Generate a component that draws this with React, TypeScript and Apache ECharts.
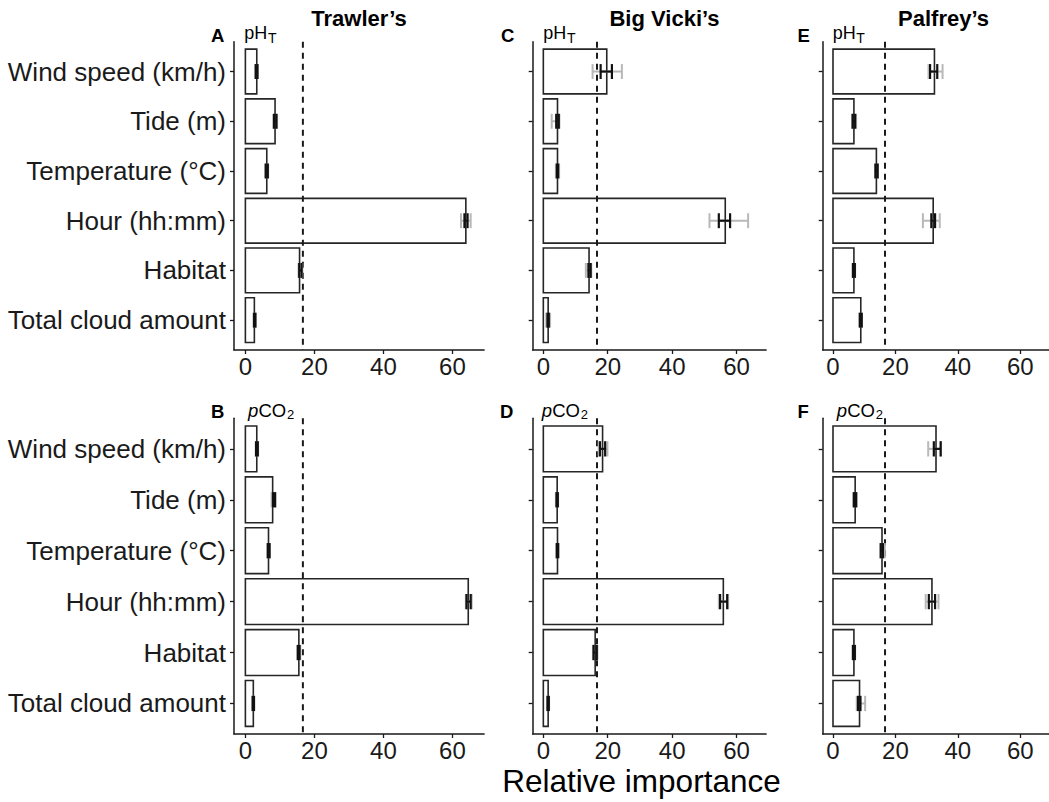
import React, { useEffect, useRef } from "react";
import * as echarts from "echarts";

// ---------- data ----------
const categories = [
  "Wind speed (km/h)",
  "Tide (m)",
  "Temperature (°C)",
  "Hour (hh:mm)",
  "Habitat",
  "Total cloud amount",
];
const xTicks = [0, 20, 40, 60];
const equalShare = 100 / 6;
const siteTitles = ["Trawler’s", "Big Vicki’s", "Palfrey’s"];
const panelLetters = ["A", "C", "E", "B", "D", "F"];

// Trawler's pH_T
const trawlersPhValues = [3.3, 8.6, 6.2, 63.9, 15.7, 2.6];
const trawlersPhCI = [[3.0, 3.5], [8.3, 9.0], [5.9, 6.5], [63.5, 64.4], [15.6, 16.3], [2.5, 2.9]];
const trawlersPhCIBoot = [[2.9, 3.6], [8.1, 9.2], [5.8, 6.6], [62.5, 65.3], [15.4, 16.5], [2.4, 3.0]];
// Big Vicki's pH_T
const vickisPhValues = [19.7, 4.4, 4.4, 56.5, 14.2, 1.5];
const vickisPhCI = [[17.8, 21.3], [4.0, 4.8], [4.2, 4.6], [54.5, 58.0], [14.0, 14.7], [1.3, 1.7]];
const vickisPhCIBoot = [[15.3, 24.4], [2.6, 5.0], [3.9, 4.9], [51.6, 63.6], [13.2, 14.9], [0.9, 2.1]];
// Palfrey's pH_T
const palfreysPhValues = [32.5, 6.7, 13.9, 32.1, 6.7, 8.9];
const palfreysPhCI = [[31.1, 33.4], [6.3, 7.1], [13.6, 14.3], [31.5, 32.7], [6.4, 7.0], [8.6, 9.2]];
const palfreysPhCIBoot = [[30.6, 35.1], [6.1, 7.4], [13.5, 14.4], [28.8, 34.2], [6.3, 7.1], [8.5, 9.3]];
// Trawler's pCO2
const trawlersCo2Values = [3.3, 7.9, 6.7, 64.6, 15.5, 2.3];
const trawlersCo2CI = [[3.1, 3.6], [8.0, 8.6], [6.5, 7.0], [64.1, 65.3], [15.2, 15.7], [2.1, 2.5]];
const trawlersCo2CIBoot = [[3.0, 3.7], [7.6, 8.7], [6.4, 7.1], [63.9, 65.6], [15.1, 15.9], [2.1, 2.5]];
// Big Vicki's pCO2
const vickisCo2Values = [18.4, 4.3, 4.4, 55.9, 16.1, 1.5];
const vickisCo2CI = [[17.6, 19.2], [4.1, 4.5], [4.2, 4.6], [54.9, 57.1], [15.6, 16.6], [1.3, 1.7]];
const vickisCo2CIBoot = [[17.2, 19.9], [3.9, 4.6], [4.0, 4.7], [54.5, 57.4], [15.4, 16.8], [1.2, 1.8]];
// Palfrey's pCO2
const palfreysCo2Values = [33.0, 7.1, 15.7, 31.7, 6.7, 8.5];
const palfreysCo2CI = [[32.3, 34.5], [6.7, 7.4], [15.3, 16.0], [30.7, 32.7], [6.4, 7.0], [8.0, 8.8]];
const palfreysCo2CIBoot = [[30.5, 34.5], [6.5, 7.6], [15.2, 16.6], [29.7, 33.8], [6.3, 7.1], [7.6, 10.3]];

const panelData = [
  { values: trawlersPhValues, ci: trawlersPhCI, boot: trawlersPhCIBoot },
  { values: vickisPhValues, ci: vickisPhCI, boot: vickisPhCIBoot },
  { values: palfreysPhValues, ci: palfreysPhCI, boot: palfreysPhCIBoot },
  { values: trawlersCo2Values, ci: trawlersCo2CI, boot: trawlersCo2CIBoot },
  { values: vickisCo2Values, ci: vickisCo2CI, boot: vickisCo2CIBoot },
  { values: palfreysCo2Values, ci: palfreysCo2CI, boot: palfreysCo2CIBoot },
];

// ---------- layout ----------
const X_MIN = -3.3;
const X_MAX = 69.2;
const colLeft = [234, 532.7, 822.7];
const colScale = [3.45, 3.22, 3.23];
const rowTop = [41.7, 418.3];
const rowHeight = [308.3, 315.7];
const FONT = "'Liberation Sans', Arial, Helvetica, sans-serif";
const INK = "#1a1a1a";

export default function App() {
  const ref = useRef<HTMLDivElement>(null);

  useEffect(() => {
    if (!ref.current) return;
    const chart = echarts.init(ref.current, undefined, { renderer: "svg" });

    const grids: any[] = [];
    const xAxes: any[] = [];
    const yAxes: any[] = [];
    const series: any[] = [];

    panelData.forEach((pd, k) => {
      const row = Math.floor(k / 3);
      const col = k % 3;
      grids.push({
        left: colLeft[col],
        top: rowTop[row],
        width: (X_MAX - X_MIN) * colScale[col],
        height: rowHeight[row],
        containLabel: false,
      });
      xAxes.push({
        type: "value",
        gridIndex: k,
        min: X_MIN,
        max: X_MAX,
        axisLine: { show: true, onZero: false, lineStyle: { color: INK, width: 1.5 } },
        axisTick: { show: true, length: 4, customValues: xTicks, lineStyle: { color: INK, width: 1.3 } },
        axisLabel: {
          show: true,
          customValues: xTicks,
          fontSize: 24,
          lineHeight: 22,
          color: INK,
          margin: 5,
          fontFamily: FONT,
        },
        splitLine: { show: false },
      });
      yAxes.push({
        type: "value",
        gridIndex: k,
        min: -0.6,
        max: 5.6,
        inverse: true,
        axisLine: { show: true, onZero: false, lineStyle: { color: INK, width: 1.5 } },
        axisTick: { show: true, length: 4, customValues: [0, 1, 2, 3, 4, 5], lineStyle: { color: INK, width: 1.3 } },
        axisLabel: {
          show: col === 0,
          customValues: [0, 1, 2, 3, 4, 5],
          formatter: (v: number) => categories[Math.round(v)] ?? "",
          fontSize: 26,
          color: INK,
          margin: 8,
          fontFamily: FONT,
        },
        splitLine: { show: false },
      });

      // bars
      series.push({
        type: "custom",
        xAxisIndex: k,
        yAxisIndex: k,
        data: pd.values.map((v, i) => [v, i]),
        encode: { x: 0, y: 1 },
        renderItem: (params: any, api: any) => {
          const v = api.value(0);
          const c = api.value(1);
          const p0 = api.coord([0, c]);
          const p1 = api.coord([v, c]);
          const h = Math.abs(api.size([0, 0.9])[1]);
          return {
            type: "rect",
            shape: { x: p0[0], y: p0[1] - h / 2, width: p1[0] - p0[0], height: h },
            style: { fill: "#ffffff", stroke: "#262626", lineWidth: 1.6 },
          };
        },
        z: 2,
      });

      // reference line at equal share
      series.push({
        type: "line",
        xAxisIndex: k,
        yAxisIndex: k,
        data: [[equalShare, -0.6], [equalShare, 5.6]],
        showSymbol: false,
        symbol: "none",
        lineStyle: { color: INK, width: 2, type: [6, 5] },
        silent: true,
        z: 3,
      });

      const errSeries = (pairs: number[][], color: string, width: number, z: number) => ({
        type: "custom",
        xAxisIndex: k,
        yAxisIndex: k,
        data: pairs.map((p, i) => [p[0], p[1], i]),
        encode: { x: [0, 1], y: 2 },
        renderItem: (params: any, api: any) => {
          const lo = api.value(0);
          const hi = api.value(1);
          const c = api.value(2);
          const a = api.coord([lo, c]);
          const b = api.coord([hi, c]);
          const ch = Math.abs(api.size([0, 0.3])[1]) / 2;
          const style = { stroke: color, lineWidth: width };
          return {
            type: "group",
            children: [
              { type: "line", shape: { x1: a[0], y1: a[1], x2: b[0], y2: b[1] }, style },
              { type: "line", shape: { x1: a[0], y1: a[1] - ch, x2: a[0], y2: a[1] + ch }, style },
              { type: "line", shape: { x1: b[0], y1: b[1] - ch, x2: b[0], y2: b[1] + ch }, style },
            ],
          };
        },
        z,
      });
      series.push(errSeries(pd.boot, "#b8b8b8", 2, 4));
      series.push(errSeries(pd.ci, "#111111", 2.2, 5));
    });

    const txt = (text: string, x: number, y: number, fontSize: number, extra: any = {}) => ({
      type: "text",
      x,
      y,
      silent: true,
      style: {
        text,
        fontSize,
        fontFamily: FONT,
        fill: "#000",
        verticalAlign: "middle",
        align: "left",
        ...extra,
      },
    });

    const graphics: any[] = [];
    const titleX = [359, 664.5, 943.5];
    siteTitles.forEach((t, i) =>
      graphics.push(txt(t, titleX[i], 18, 22, { fontWeight: "bold", align: "center" }))
    );
    const letterX = [211, 501, 797.5, 211, 500, 797.5];
    const letterY = [35, 35, 35, 411, 411, 411];
    panelLetters.forEach((l, i) => graphics.push(txt(l, letterX[i], letterY[i], 18.5, { fontWeight: "bold" })));
    // pH_T labels (top row)
    const phX = [244.3, 543.3, 832.7];
    phX.forEach((x) => {
      graphics.push(txt("pH", x, 33, 18));
      graphics.push(txt("T", x + 23.6, 38, 14));
    });
    // pCO2 labels (bottom row)
    const co2X = [248, 541.7, 836.7];
    co2X.forEach((x) => {
      graphics.push(txt("p", x, 410, 18.5, { fontStyle: "italic" }));
      graphics.push(txt("CO", x + 10.5, 410, 18.5));
      graphics.push(txt("2", x + 39, 414.5, 13));
    });
    graphics.push(txt("Relative importance", 641.5, 781, 31.5, { align: "center" }));

    chart.setOption({
      animation: false,
      textStyle: { fontFamily: FONT },
      grid: grids,
      xAxis: xAxes,
      yAxis: yAxes,
      series,
      graphic: graphics,
    });

    return () => chart.dispose();
  }, []);

  return (
    <div
      ref={ref}
      style={{ position: "absolute", left: 0, top: 0, width: 1049, height: 802, background: "#fff" }}
    />
  );
}
